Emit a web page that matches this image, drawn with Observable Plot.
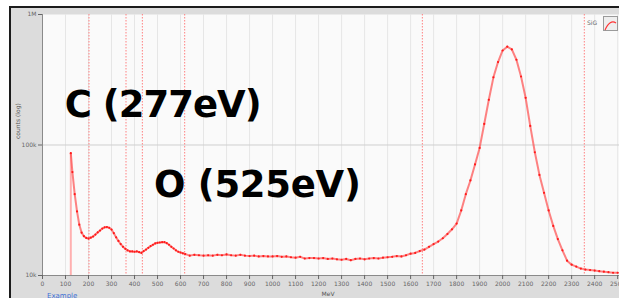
<!DOCTYPE html>
<html><head><meta charset="utf-8">
<script src="https://cdn.jsdelivr.net/npm/d3@7"></script>
<script src="https://cdn.jsdelivr.net/npm/@observablehq/plot@0.6"></script>
<style>
html,body{margin:0;padding:0;background:#fff;}
#wrap{position:relative;width:619px;height:298px;overflow:hidden;background:#fff;font-family:"DejaVu Sans",sans-serif;}
#panel{position:absolute;left:9px;top:6px;width:620px;height:300px;background:#dcdcdc;border-top:2px solid #1c1c1c;border-left:2px solid #1c1c1c;}
#chart{position:absolute;left:0;top:0;}
#legtext{position:absolute;left:587px;top:19px;font-size:6px;color:#666;}
#legicon{position:absolute;left:603px;top:16px;width:13px;height:13px;border:1px solid #9a9a9a;background:#eeeeee;}
#example{position:absolute;left:47px;top:292px;font-size:7px;color:#3d6fd6;}
</style></head>
<body>
<div id="wrap">
  <div id="panel"></div>
  <div id="chart"></div>
  <div id="legtext">SiG</div>
  <div id="legicon"><svg width="13" height="13"><path d="M1,11 Q6,0 12,4" fill="none" stroke="#ff3333" stroke-width="1.2"/></svg></div>
  <div id="example">Example</div>
</div>
<script>
// Energy (MeV) of each sampled point
const energy = [
  123,130,140,150,160,170,180,190,200,210,
  220,230,240,250,260,270,280,290,300,310,
  320,330,340,350,360,370,380,390,400,410,
  420,430,440,450,460,470,480,490,500,510,
  520,530,540,550,560,570,580,590,600,610,
  620,
  640,660,680,700,720,740,760,780,800,820,
  840,860,880,900,920,940,960,980,1000,1020,
  1040,1060,1080,1100,1120,1140,1160,1180,1200,1220,
  1240,1260,1280,1300,1320,1340,1360,1380,1400,1420,
  1440,1460,1480,1500,1520,1540,1560,1580,1600,1620,
  1640,1660,1680,1700,1720,1740,1760,1780,1800,1820,
  1840,1860,1880,1900,1920,1940,1960,1980,2000,2020,
  2040,2060,2080,2100,2120,2140,2160,2180,2200,2220,
  2240,2260,2280,2300,2320,2340,2360,2380,2400,2420,
  2440,2460,2480,2500
];
// counts at each energy
const counts = [
  86500,62000,42000,31000,24500,21300,20000,19400,19200,19500,
  19900,20600,21400,22100,22900,23400,23500,23200,22500,21100,
  19600,18400,17400,16600,16000,15600,15300,15300,15200,15300,
  15100,14900,15400,15800,16300,16800,17200,17600,17800,17900,
  18000,18000,17700,17200,16600,16100,15600,15200,15000,14800,
  14600,
  14200,14400,14300,14200,14300,14200,14400,14300,14500,14300,
  14200,14400,14200,14100,14200,14000,14100,14000,14000,14100,
  13900,14000,13800,13700,13900,13500,13600,13600,13500,13600,
  13400,13500,13300,13200,13400,13100,13400,13500,13300,13500,
  13600,13500,13700,13800,13900,14100,14000,14300,14700,14900,
  15400,15800,16600,17400,18200,19300,20800,22600,25000,31500,
  42000,53500,71000,95000,145000,222000,330000,432000,530000,567000,
  540000,450000,335000,230000,140000,88000,59000,43000,31500,24000,
  19000,15600,13000,12100,11700,11300,11100,11000,10900,10800,
  10700,10600,10500,10500
];
// vertical marker positions (MeV)
const markers = [202, 363, 434, 618, 1651, 2355];
// x ticks
const xTicks = [0,100,200,300,400,500,600,700,800,900,1000,1100,1200,1300,1400,1500,1600,1700,1800,1900,2000,2100,2200,2300,2400,2500];
const yTicks = [10000, 100000, 1000000];
const yTickLabels = ["10k", "100k", "1M"];
// annotations
const labelText = ["C (277eV)", "O (525eV)"];
const labelX = [97, 485];
const labelY = [163000, 40300];

const data = energy.map((e, i) => ({e, c: counts[i]}));
const labels = labelText.map((t, i) => ({t, x: labelX[i], y: labelY[i]}));

const chart = Plot.plot({
  width: 619, height: 298,
  marginLeft: 42, marginRight: 0, marginTop: 14, marginBottom: 23,
  style: {background: "transparent", fontFamily: "DejaVu Sans, sans-serif"},
  x: {domain: [0, 2508]},
  y: {type: "log", domain: [1e4, 1e6]},
  marks: [
    Plot.frame({fill: "#fafafa", stroke: null}),
    Plot.gridX(xTicks, {stroke: "#e6e6e6", strokeOpacity: 1}),
    Plot.gridY([1e5], {stroke: "#cfcfcf", strokeOpacity: 1}),
    Plot.ruleX(markers, {stroke: "#ff8080", strokeDasharray: "1.5,1.5", strokeWidth: 1}),
    Plot.ruleX([0], {stroke: "#8a8a8a"}),
    Plot.ruleY([1e4], {stroke: "#8a8a8a"}),
    Plot.axisX(xTicks, {tickSize: 4, tickPadding: 2, fontSize: 6, color: "#666", label: null, tickFormat: d => String(d)}),
    Plot.axisY(yTicks, {tickSize: 4, tickPadding: 2, fontSize: 6, color: "#666", label: null, tickFormat: d => yTickLabels[yTicks.indexOf(d)]}),
    Plot.text(["MeV"], {frameAnchor: "bottom", dy: 20, dx: -3, fontSize: 6, fill: "#555"}),
    Plot.text(["counts (log)"], {frameAnchor: "left", rotate: -90, dx: -24, dy: -6, fontSize: 6, fill: "#555"}),
    Plot.ruleX([data[0]], {x: "e", y1: "c", y2: 1e4, stroke: "#ffb0b0", strokeWidth: 2}),
    Plot.line(data, {x: "e", y: "c", stroke: "#ff4040", strokeWidth: 2, strokeOpacity: 0.65}),
    Plot.dot(data, {x: "e", y: "c", r: 1.1, fill: "#ff1a1a", stroke: null}),
    Plot.text(labels, {x: "x", y: "y", text: "t", textAnchor: "start", lineAnchor: "bottom", fontSize: 37, fontWeight: "bold", fill: "#000", fontFamily: "DejaVu Sans"})
  ]
});
document.getElementById("chart").appendChild(chart);
d3.select(chart).selectAll("text").filter(function() { return this.textContent === "C (277eV)"; }).attr("letter-spacing", "-1");
d3.select(chart).selectAll("text").filter(function() { return this.textContent === "O (525eV)"; }).attr("letter-spacing", "-0.3");
</script>
</body></html>
